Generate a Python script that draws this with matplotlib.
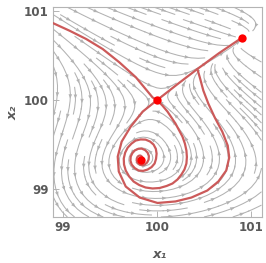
import numpy as np
import matplotlib
matplotlib.use("Agg")
import matplotlib.pyplot as plt
from matplotlib.collections import PolyCollection

# ---------------- values ----------------
x_ticks = [99, 100, 101]
y_ticks = [99, 100, 101]
x_range = (98.894, 101.11)
y_range = (98.685, 101.045)

# marked points: saddle, focus, end point
dot_x = [100.0, 99.825, 100.905]
dot_y = [100.0, 99.322, 100.705]

# stable branch from the upper left into the saddle
curveA_x = [98.894, 99.071, 99.247, 99.423, 99.600, 99.776, 99.952, 100.0]
curveA_y = [100.867, 100.781, 100.688, 100.575, 100.425, 100.256, 100.031, 100.0]

# saddle to upper right point
curveB_x = [100.0, 100.217, 100.429, 100.66, 100.905]
curveB_y = [100.0, 100.18, 100.351, 100.53, 100.705]

# big loop: branch point down, around the bottom, back to the saddle
curveC_x = [100.429, 100.455, 100.492, 100.545, 100.614, 100.693, 100.751, 100.767,
            100.735, 100.651, 100.534, 100.365, 100.196, 100.005, 99.815, 99.667,
            99.593, 99.582, 99.624, 99.720, 99.847, 100.0]
curveC_y = [100.348, 100.253, 100.107, 99.961, 99.803, 99.646, 99.489, 99.354,
            99.208, 99.084, 98.983, 98.904, 98.860, 98.843, 98.904, 99.028,
            99.197, 99.365, 99.534, 99.702, 99.871, 100.0]

# inner curve: saddle down-right, round the bottom, winding into the focus
curveD_x = [100.0, 100.058, 100.111, 100.196, 100.270, 100.296, 100.312, 100.317,
            100.312, 100.291, 100.259, 100.217, 100.164, 100.101, 100.026,
            99.952, 99.878, 99.810, 99.751, 99.704, 99.667, 99.649, 99.646, 99.661,
            99.688, 99.728, 99.772, 99.825, 99.878, 99.926, 99.963, 99.987, 99.995,
            99.989, 99.974, 99.942, 99.899, 99.852, 99.804, 99.762, 99.730, 99.717,
            99.720, 99.737, 99.762, 99.799, 99.836, 99.873, 99.899, 99.913, 99.910,
            99.894, 99.868, 99.841, 99.815, 99.792, 99.783, 99.785, 99.794, 99.810,
            99.825, 99.841, 99.847, 99.839, 99.825]
curveD_y = [100.0, 99.938, 99.871, 99.736, 99.590, 99.511, 99.433, 99.360,
            99.287, 99.219, 99.163, 99.107, 99.062, 99.034, 99.011,
            99.006, 99.017, 99.045, 99.084, 99.140, 99.208, 99.275, 99.343, 99.410,
            99.466, 99.511, 99.545, 99.558, 99.556, 99.534, 99.500, 99.452, 99.399,
            99.339, 99.287, 99.247, 99.219, 99.204, 99.208, 99.236, 99.275, 99.320,
            99.365, 99.403, 99.433, 99.452, 99.455, 99.438, 99.410, 99.371, 99.331,
            99.298, 99.275, 99.267, 99.275, 99.296, 99.320, 99.345, 99.365, 99.376,
            99.376, 99.362, 99.343, 99.326, 99.320]

# ---------------- vector field model for the stream lines ----------------
def field(x, y):
    u = x - 100.0
    v = y - 100.0
    upper = 0.342 * u + 0.442 * u ** 2
    lower = -0.649 + 0.05 * u - 0.10 * u ** 2
    phi = np.where(v >= 0, 0.176 * v + 1.647 * v ** 2,
                   0.176 * v - 1.2734 * v ** 2 - 2.4975 * v ** 3 - 1.0931 * v ** 4)
    lift = 1.0 + 0.5 * np.clip(v, 0, None) ** 2
    damp = 1.0 / (1.0 + 1.2 * np.clip(-u - 0.35, 0, None) ** 2
                  / (1.0 + np.exp(8.0 * (v - 0.2))))
    du = (v - upper) * (v - lower) * lift * damp
    dv = 0.504 * (u - phi)
    return du, dv

stream_color = "#b2b2b2"
red_line = "#cc5a5a"
label_color = "#5a5a5a"
frame_color = "#b4b4b4"

fig = plt.figure(figsize=(2.66, 2.63), dpi=100)
W, H = 266.0, 263.0
left, right, top, bottom = 53.0, 261.5, 7.3, 217.0
ax = fig.add_axes([left / W, 1 - bottom / H, (right - left) / W, (bottom - top) / H])
ax.set_xlim(*x_range)
ax.set_ylim(*y_range)

gx = np.linspace(x_range[0], x_range[1], 160)
gy = np.linspace(y_range[0], y_range[1], 160)
GX, GY = np.meshgrid(gx, gy)
DU, DV = field(GX, GY)
strm = ax.streamplot(GX, GY, DU, DV, density=1.0, color=stream_color,
                     linewidth=0.75, arrowstyle='-', zorder=1)

# arrowheads along every stream line at regular spacing
trans = ax.transData
inv = trans.inverted()
polys = []
spacing, al, aw = 20.0, 4.5, 1.8
for seg in strm.lines.get_segments():
    if len(seg) < 2:
        continue
    disp = trans.transform(seg)
    d = np.diff(disp, axis=0)
    ds = np.hypot(d[:, 0], d[:, 1])
    s = np.concatenate([[0], np.cumsum(ds)])
    total = s[-1]
    if total < 10:
        continue
    for sp in np.arange(spacing * 0.5, total - 2, spacing):
        i = int(np.clip(np.searchsorted(s, sp), 1, len(s) - 1))
        if ds[i - 1] < 1e-9:
            continue
        t = (sp - s[i - 1]) / ds[i - 1]
        p = disp[i - 1] + t * d[i - 1]
        dirv = d[i - 1] / ds[i - 1]
        nrm = np.array([-dirv[1], dirv[0]])
        tip = p + dirv * al * 0.5
        b = p - dirv * al * 0.5
        tri = np.array([tip, b + nrm * aw, b - nrm * aw])
        polys.append(inv.transform(tri))
ax.add_collection(PolyCollection(polys, facecolors=stream_color,
                                 edgecolors='none', zorder=1.5))

for cx, cy in [(curveA_x, curveA_y), (curveB_x, curveB_y),
               (curveC_x, curveC_y), (curveD_x, curveD_y)]:
    ax.plot(cx, cy, color=red_line, lw=1.6, solid_joinstyle='round',
            solid_capstyle='round', zorder=3)
ax.plot(dot_x, dot_y, 'o', color='#ff0000', ms=6, mec='none', zorder=4)

ax.set_xticks(x_ticks)
ax.set_yticks(y_ticks)
ax.set_xticklabels([str(t) for t in x_ticks])
ax.set_yticklabels([str(t) for t in y_ticks])
ax.tick_params(direction='in', length=4, width=0.7, color=frame_color,
               labelsize=8.6, labelcolor=label_color, pad=3)
for lab in ax.get_xticklabels() + ax.get_yticklabels():
    lab.set_fontweight('bold')
for sp in ax.spines.values():
    sp.set_color(frame_color)
    sp.set_linewidth(0.8)

fig.text(160 / W, 1 - 255 / H, "x\u2081", ha='center', va='center',
         fontsize=9.5, fontweight='bold', fontstyle='italic', color=label_color)
fig.text(13 / W, 1 - 113 / H, "x\u2082", ha='center', va='center', rotation=90,
         fontsize=9.5, fontweight='bold', fontstyle='italic', color=label_color)

fig.savefig("out.png", dpi=100)
